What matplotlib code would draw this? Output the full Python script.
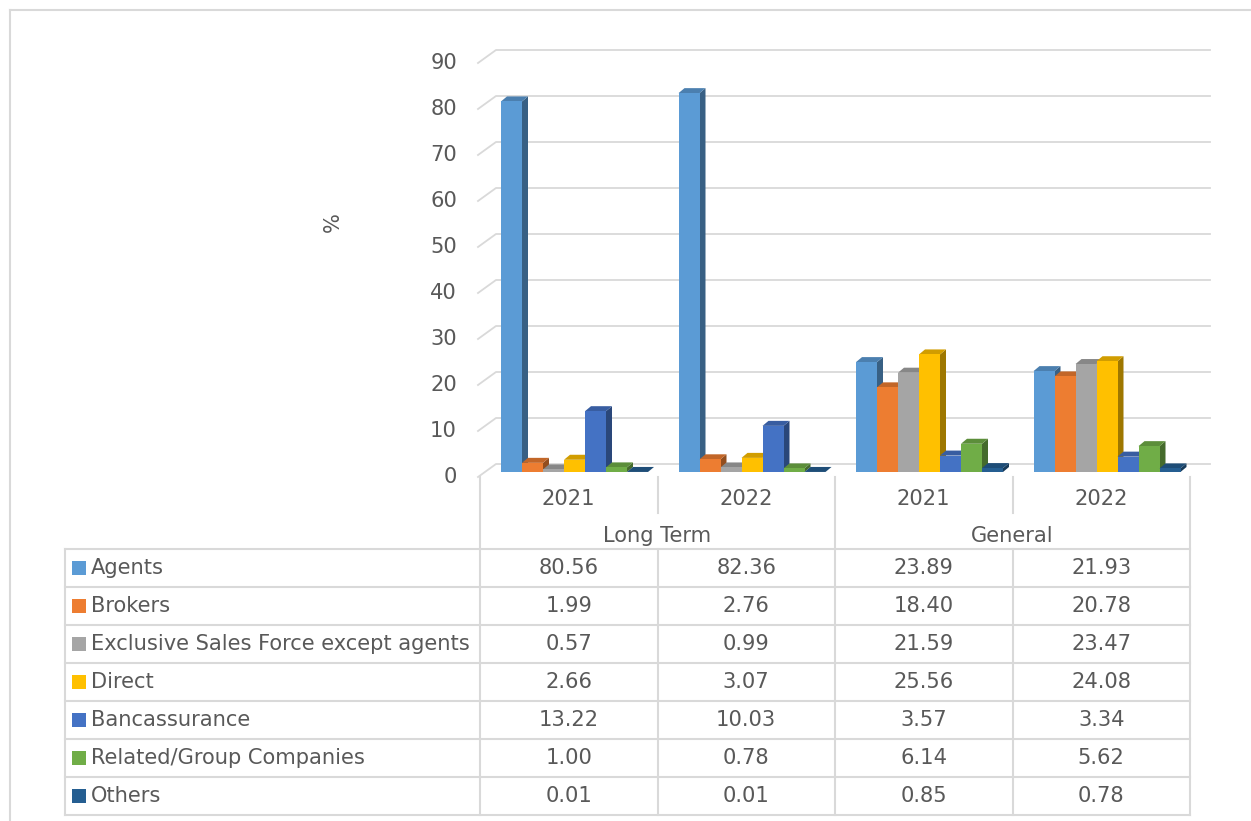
import matplotlib
matplotlib.use("Agg")
import matplotlib.pyplot as plt
from matplotlib.patches import Polygon, Rectangle
from matplotlib.lines import Line2D
import matplotlib.colors as mcolors
import numpy as np

# ---------------- data ----------------
groups = ["Long Term", "General"]
years = ["2021", "2022", "2021", "2022"]
series = ["Agents", "Brokers", "Exclusive Sales Force except agents", "Direct",
          "Bancassurance", "Related/Group Companies", "Others"]
agents = [80.56, 82.36, 23.89, 21.93]
brokers = [1.99, 2.76, 18.40, 20.78]
esf = [0.57, 0.99, 21.59, 23.47]
direct = [2.66, 3.07, 25.56, 24.08]
banc = [13.22, 10.03, 3.57, 3.34]
related = [1.00, 0.78, 6.14, 5.62]
others = [0.01, 0.01, 0.85, 0.78]
values = [agents, brokers, esf, direct, banc, related, others]
yticks = list(range(0, 100, 10))
colors = ["#5B9BD5", "#ED7D31", "#A5A5A5", "#FFC000", "#4472C4", "#70AD47", "#255E91"]

# ---------------- style ----------------
W, H = 1251, 821
TXT = "#595959"
GRID = "#D9D9D9"
FS = 15.1
plt.rcParams['font.family'] = ['DejaVu Sans']

fig = plt.figure(figsize=(W / 100, H / 100), dpi=100)
fig.patch.set_facecolor("white")

def fx(px):
    return px / W

def fy(py):
    return 1 - py / H

# outer chart frame (top and left visible)
fig.add_artist(Line2D([fx(10), fx(10)], [fy(10), 0], color=GRID, lw=1.5))
fig.add_artist(Line2D([fx(10), 1], [fy(10), fy(10)], color=GRID, lw=1.5))

# ---------------- plot area ----------------
left_px, right_px, base_px, top_px = 480, 1190, 472, 58
ax = fig.add_axes([fx(left_px), fy(base_px), (right_px - left_px) / W, (base_px - top_px) / H])
ax.set_xlim(0, 4)
ax.set_ylim(0, 90)
ax.axis("off")
PX = (right_px - left_px) / 4.0    # pixels per category unit
PY = (base_px - top_px) / 90.0     # pixels per value unit

# wall / gridlines (pseudo 3D)
for v in yticks:
    xs = [-2 / PX, 16 / PX, 4 + 20 / PX]
    ys = [v - 5 / PY, v + 8 / PY, v + 8 / PY]
    ax.plot(xs, ys, color=GRID, lw=1.3, clip_on=False, zorder=0)
    ax.text(-23 / PX, v - 5 / PY, str(v), ha="right", va="center",
            fontsize=FS, color=TXT, clip_on=False)

# bars
bw = 21 / PX
bdx, bdy = 6 / PX, 5 / PY

def shade(c, f):
    r, g, b = mcolors.to_rgb(c)
    return (r * f, g * f, b * f)

z = 2
for i in range(4):
    for j, vals in enumerate(values):
        v = vals[i]
        x0 = i + bw * (1 + j)
        c = colors[j]
        side = Polygon([(x0 + bw, 0), (x0 + bw + bdx, bdy), (x0 + bw + bdx, v + bdy), (x0 + bw, v)],
                       closed=True, facecolor=shade(c, 0.62), edgecolor="none", zorder=z, clip_on=False)
        top = Polygon([(x0, v), (x0 + bw, v), (x0 + bw + bdx, v + bdy), (x0 + bdx, v + bdy)],
                      closed=True, facecolor=shade(c, 0.82), edgecolor="none", zorder=z, clip_on=False)
        front = Rectangle((x0, 0), bw, v, facecolor=c, edgecolor="none", zorder=z, clip_on=False)
        ax.add_patch(side)
        ax.add_patch(top)
        ax.add_patch(front)
        z += 1

# y label
fig.text(fx(333), fy(222), "%", rotation=90, ha="center", va="center", fontsize=FS, color=TXT)

# ---------------- data table ----------------
tab = fig.add_axes([0, 0, 1, 1], zorder=-1)
tab.set_xlim(0, W)
tab.set_ylim(H, 0)
tab.axis("off")

edges = [left_px + k * PX for k in range(5)]
row0, rowh, nrows = 549, 38, len(series)
bottom = row0 + rowh * nrows
tl = dict(color=GRID, lw=1.5)
for k, xe in enumerate(edges):
    if k in (0, 2, 4):
        tab.plot([xe, xe], [477, bottom], **tl)
    else:
        tab.plot([xe, xe], [477, 513], **tl)
        tab.plot([xe, xe], [row0, bottom], **tl)
tab.plot([65, 65], [row0, bottom], **tl)
for r in range(nrows + 1):
    yy = row0 + r * rowh
    tab.plot([65, edges[-1]], [yy, yy], **tl)

# header texts
for k, yr in enumerate(years):
    tab.text((edges[k] + edges[k + 1]) / 2, 499, yr, ha="center", va="center", fontsize=FS, color=TXT)
for g, name in enumerate(groups):
    tab.text((edges[2 * g] + edges[2 * g + 2]) / 2, 536, name, ha="center", va="center", fontsize=FS, color=TXT)

# rows
for r, name in enumerate(series):
    yc = row0 + rowh * (r + 0.5)
    tab.add_patch(Rectangle((72, yc - 7), 14, 14, facecolor=colors[r], edgecolor="none"))
    tab.text(91, yc, name, ha="left", va="center", fontsize=FS, color=TXT)
    for k in range(4):
        tab.text((edges[k] + edges[k + 1]) / 2, yc, f"{values[r][k]:.2f}",
                 ha="center", va="center", fontsize=FS, color=TXT)

fig.savefig("out.png", dpi=100)
